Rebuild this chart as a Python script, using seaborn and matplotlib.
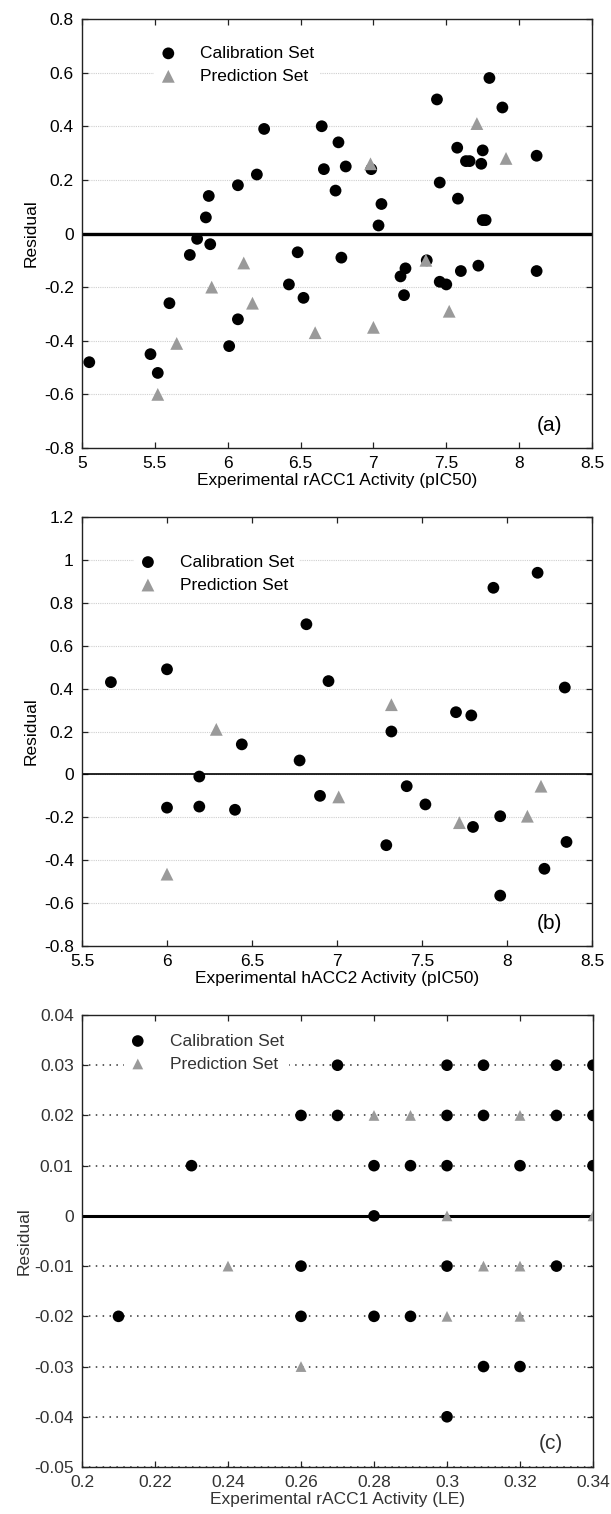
import matplotlib
matplotlib.use("Agg")
import matplotlib.pyplot as plt
import seaborn as sns
import pandas as pd

# ---------------- data ----------------
# Panel (a): rACC1 pIC50
a_cal_x = [5.05, 5.47, 5.52, 5.60, 5.74, 5.79, 5.85, 5.87, 5.88, 6.01, 6.07, 6.07,
           6.20, 6.25, 6.42, 6.48, 6.52, 6.645, 6.66, 6.74, 6.76, 6.78, 6.81, 6.985,
           7.035, 7.055, 7.186, 7.21, 7.22, 7.366, 7.436, 7.455, 7.455, 7.50, 7.575,
           7.58, 7.60, 7.635, 7.66, 7.72, 7.74, 7.75, 7.75, 7.77, 7.796, 7.885, 8.12, 8.12]
a_cal_y = [-0.48, -0.45, -0.52, -0.26, -0.08, -0.02, 0.06, 0.14, -0.04, -0.42, 0.18, -0.32,
           0.22, 0.39, -0.19, -0.07, -0.24, 0.40, 0.24, 0.16, 0.34, -0.09, 0.25, 0.24,
           0.03, 0.11, -0.16, -0.23, -0.13, -0.10, 0.50, 0.19, -0.18, -0.19, 0.32,
           0.13, -0.14, 0.27, 0.27, -0.12, 0.26, 0.31, 0.05, 0.05, 0.58, 0.47, 0.29, -0.14]
a_pred_x = [5.52, 5.65, 5.89, 6.11, 6.17, 6.60, 6.98, 7.00, 7.36, 7.52, 7.71, 7.91]
a_pred_y = [-0.60, -0.41, -0.20, -0.11, -0.26, -0.37, 0.26, -0.35, -0.10, -0.29, 0.41, 0.28]

# Panel (b): hACC2 pIC50
b_cal_x = [5.67, 6.00, 6.82, 6.95, 7.32, 7.70, 7.79, 7.92, 8.18, 8.34, 6.44,
           6.78, 6.19, 6.00, 6.19, 6.40, 6.90, 7.29, 7.41, 7.52, 7.80, 7.96, 7.96, 8.22, 8.35]
b_cal_y = [0.43, 0.49, 0.70, 0.435, 0.20, 0.29, 0.275, 0.87, 0.94, 0.405, 0.14,
           0.065, -0.01, -0.155, -0.15, -0.165, -0.10, -0.33, -0.055, -0.14, -0.245, -0.195,
           -0.565, -0.44, -0.315]
b_pred_x = [6.29, 7.32, 6.00, 7.01, 7.72, 8.12, 8.20]
b_pred_y = [0.21, 0.325, -0.465, -0.105, -0.225, -0.195, -0.055]

# Panel (c): rACC1 LE
c_cal_x = [0.27, 0.30, 0.31, 0.33, 0.34,
           0.26, 0.27, 0.30, 0.31, 0.33, 0.34,
           0.23, 0.28, 0.29, 0.30, 0.32, 0.34,
           0.28,
           0.26, 0.30, 0.33,
           0.21, 0.26, 0.28, 0.29,
           0.31, 0.32,
           0.30]
c_cal_y = [0.03, 0.03, 0.03, 0.03, 0.03,
           0.02, 0.02, 0.02, 0.02, 0.02, 0.02,
           0.01, 0.01, 0.01, 0.01, 0.01, 0.01,
           0.00,
           -0.01, -0.01, -0.01,
           -0.02, -0.02, -0.02, -0.02,
           -0.03, -0.03,
           -0.04]
c_pred_x = [0.28, 0.29, 0.32, 0.30, 0.34, 0.24, 0.31, 0.32, 0.30, 0.32, 0.26]
c_pred_y = [0.02, 0.02, 0.02, 0.00, 0.00, -0.01, -0.01, -0.01, -0.02, -0.02, -0.03]

labels = ["Calibration Set", "Prediction Set"]
xlabels = ["Experimental rACC1 Activity (pIC50)",
           "Experimental hACC2 Activity (pIC50)",
           "Experimental rACC1 Activity (LE)"]
panel_tags = ["(a)", "(b)", "(c)"]

# ---------------- style ----------------
sns.set_style("white")
plt.rcParams["font.family"] = ["Liberation Sans", "DejaVu Sans"]

fig = plt.figure(figsize=(6.11, 15.14), dpi=100)
W, H = 611, 1514
def box(l, r, t, b):
    return [l / W, 1 - b / H, (r - l) / W, (b - t) / H]

ax_a = fig.add_axes(box(82, 592, 19, 448))
ax_b = fig.add_axes(box(82, 592, 517, 946))
ax_c = fig.add_axes(box(82, 593, 1015, 1467))

GREY = "#9a9a9a"
FAM_AB = ["Liberation Sans", "DejaVu Sans"]
FAM_C = ["Liberation Sans Narrow", "Liberation Sans", "DejaVu Sans"]

def draw(ax, cx, cy, px, py, s_c, s_p, zero_lw, grid_kw, fs, tcolor):
    d1 = pd.DataFrame({"x": cx, "y": cy})
    d2 = pd.DataFrame({"x": px, "y": py})
    sns.scatterplot(data=d1, x="x", y="y", ax=ax, color="black", marker="o",
                    s=s_c, edgecolor="none", label=labels[0], zorder=3)
    sns.scatterplot(data=d2, x="x", y="y", ax=ax, color=GREY, marker="^",
                    s=s_p, edgecolor="none", label=labels[1], zorder=4)
    ax.axhline(0, color="black", lw=zero_lw, zorder=2)
    ax.yaxis.grid(True, **grid_kw)
    ax.xaxis.grid(False)
    ax.set_axisbelow(True)
    for sp in ax.spines.values():
        sp.set_color("#222222")
        sp.set_linewidth(1.0)
    ax.tick_params(direction="in", length=4, width=0.9, top=True, right=True,
                   bottom=True, left=True, labelsize=fs, colors="#222222",
                   labelcolor=tcolor)
    ax.tick_params(axis="x", pad=6)
    ax.tick_params(axis="y", pad=6)

draw(ax_a, a_cal_x, a_cal_y, a_pred_x, a_pred_y, 72, 85, 2.4,
     dict(color="#cfcfcf", linestyle=(0, (1, 1)), lw=0.8), 12.5, "black")
draw(ax_b, b_cal_x, b_cal_y, b_pred_x, b_pred_y, 72, 85, 1.2,
     dict(color="#cfcfcf", linestyle=(0, (1, 1)), lw=0.8), 12.5, "black")
draw(ax_c, c_cal_x, c_cal_y, c_pred_x, c_pred_y, 70, 60, 2.2,
     dict(color="#333333", linestyle=(0, (1, 3.5)), lw=1.1), 12.5, "#333333")

# limits & ticks
ax_a.set_xlim(5, 8.5); ax_a.set_ylim(-0.8, 0.8)
ax_a.set_xticks([5, 5.5, 6, 6.5, 7, 7.5, 8, 8.5])
ax_a.set_xticklabels(["5", "5.5", "6", "6.5", "7", "7.5", "8", "8.5"])
ax_a.set_yticks([-0.8, -0.6, -0.4, -0.2, 0, 0.2, 0.4, 0.6, 0.8])
ax_a.set_yticklabels(["-0.8", "-0.6", "-0.4", "-0.2", "0", "0.2", "0.4", "0.6", "0.8"])

ax_b.set_xlim(5.5, 8.5); ax_b.set_ylim(-0.8, 1.2)
ax_b.set_xticks([5.5, 6, 6.5, 7, 7.5, 8, 8.5])
ax_b.set_xticklabels(["5.5", "6", "6.5", "7", "7.5", "8", "8.5"])
ax_b.set_yticks([-0.8, -0.6, -0.4, -0.2, 0, 0.2, 0.4, 0.6, 0.8, 1.0, 1.2])
ax_b.set_yticklabels(["-0.8", "-0.6", "-0.4", "-0.2", "0", "0.2", "0.4", "0.6", "0.8", "1", "1.2"])

ax_c.set_xlim(0.2, 0.34); ax_c.set_ylim(-0.05, 0.04)
ax_c.set_xticks([0.2, 0.22, 0.24, 0.26, 0.28, 0.3, 0.32, 0.34])
ax_c.set_xticklabels(["0.2", "0.22", "0.24", "0.26", "0.28", "0.3", "0.32", "0.34"])
ax_c.set_yticks([-0.05, -0.04, -0.03, -0.02, -0.01, 0, 0.01, 0.02, 0.03, 0.04])
ax_c.set_yticklabels(["-0.05", "-0.04", "-0.03", "-0.02", "-0.01", "0", "0.01", "0.02", "0.03", "0.04"])

for ax, fam in [(ax_a, FAM_AB), (ax_b, FAM_AB), (ax_c, FAM_C)]:
    for lab in ax.get_xticklabels() + ax.get_yticklabels():
        lab.set_family(fam)

for ax, xl, tag, fam, col, ylp in zip([ax_a, ax_b, ax_c], xlabels, panel_tags,
                                       [FAM_AB, FAM_AB, FAM_C],
                                       ["black", "black", "#333333"], [4, 4, 2]):
    ax.set_xlabel(xl, fontsize=12.5, family=fam, color=col, labelpad=1)
    ax.set_ylabel("Residual", fontsize=12.5, family=fam, color=col, labelpad=ylp)
    ax.text(0.941, 0.03, tag, transform=ax.transAxes, ha="right", va="bottom",
            fontsize=15, family=fam, color=col)

# legends
leg_pos = {ax_a: (0.125, 0.97), ax_b: (0.085, 0.945), ax_c: (0.065, 0.99)}
for ax in [ax_a, ax_b, ax_c]:
    fam = FAM_C if ax is ax_c else FAM_AB
    leg = ax.legend(loc="upper left", bbox_to_anchor=leg_pos[ax], frameon=True,
                    fancybox=False, framealpha=1, facecolor="white", edgecolor="none",
                    handlelength=1.0, handletextpad=1.35, labelspacing=0.45,
                    borderpad=0.3, prop={"family": fam, "size": 12.5})
    for t in leg.get_texts():
        t.set_color("black" if ax is not ax_c else "#333333")
    leg.set_zorder(5)

fig.savefig("out.png", dpi=100)
